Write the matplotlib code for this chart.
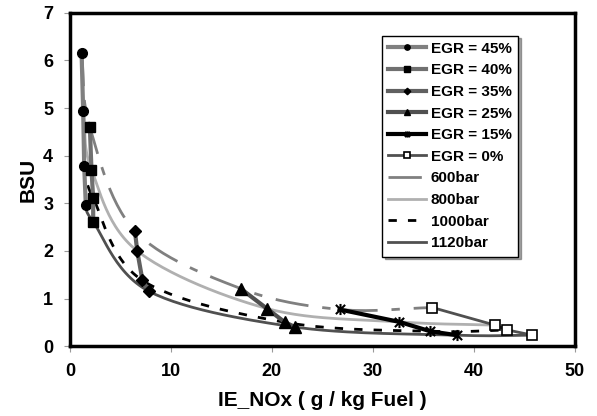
import numpy as np
import matplotlib
matplotlib.use("Agg")
import matplotlib.pyplot as plt
from matplotlib.path import Path

plt.rcParams['font.family'] = ['Liberation Sans', 'DejaVu Sans']

# EGR series (x = IE_NOx, y = BSU), points ordered 600, 800, 1000, 1120 bar
egr_labels = ['EGR = 45%', 'EGR = 40%', 'EGR = 35%', 'EGR = 25%', 'EGR = 15%', 'EGR = 0%']
egr45_x = [1.16, 1.32, 1.42, 1.58]
egr45_y = [6.16, 4.93, 3.78, 2.96]
egr40_x = [1.98, 2.14, 2.31, 2.31]
egr40_y = [4.60, 3.71, 3.11, 2.61]
egr35_x = [6.44, 6.67, 7.19, 7.85]
egr35_y = [2.42, 2.00, 1.38, 1.15]
egr25_x = [16.9, 19.5, 21.3, 22.3]
egr25_y = [1.21, 0.79, 0.50, 0.40]
egr15_x = [26.7, 32.6, 35.7, 38.3]
egr15_y = [0.77, 0.51, 0.31, 0.23]
egr0_x = [35.9, 42.1, 43.3, 45.8]
egr0_y = [0.81, 0.44, 0.34, 0.23]

# Injection-pressure curves
bar_labels = ['600bar', '800bar', '1000bar', '1120bar']
p600_x = [1.16, 1.98, 6.44, 16.9, 26.7, 35.9]
p600_y = [6.16, 4.60, 2.42, 1.21, 0.77, 0.81]
p800_x = [1.32, 2.14, 6.67, 19.5, 32.6, 42.1]
p800_y = [4.93, 3.71, 2.00, 0.79, 0.51, 0.44]
p1000_x = [1.42, 2.31, 7.19, 21.3, 35.7, 43.3]
p1000_y = [3.78, 3.11, 1.38, 0.50, 0.31, 0.34]
p1120_x = [1.58, 2.31, 7.85, 22.3, 38.3, 45.8]
p1120_y = [2.96, 2.61, 1.15, 0.40, 0.23, 0.23]

x_ticks = [0, 10, 20, 30, 40, 50]
y_ticks = [0, 1, 2, 3, 4, 5, 6, 7]


def smooth(xs, ys, n=30):
    # Excel-like smoothing (Catmull-Rom through the data points)
    p = np.column_stack([xs, ys]).astype(float)
    sc = np.array([1 / 50.0, 1 / 7.0 * 0.7])
    q = p * sc
    pts = [q[0] - (q[1] - q[0])] + list(q) + [q[-1] + (q[-1] - q[-2])]
    pts = np.array(pts)
    out = []
    for i in range(1, len(pts) - 2):
        p0, p1, p2, p3 = pts[i - 1], pts[i], pts[i + 1], pts[i + 2]
        t = np.linspace(0, 1, n)[:, None]
        seg = 0.5 * ((2 * p1) + (-p0 + p2) * t + (2 * p0 - 5 * p1 + 4 * p2 - p3) * t ** 2
                     + (-p0 + 3 * p1 - 3 * p2 + p3) * t ** 3)
        out.append(seg)
    out = np.vstack(out) / sc
    return out[:, 0], out[:, 1]


# Excel "star" marker: an X with a vertical bar
star = Path([(-1, -1), (1, 1), (-1, 1), (1, -1), (0, -1.2), (0, 1.2)],
            [Path.MOVETO, Path.LINETO, Path.MOVETO, Path.LINETO, Path.MOVETO, Path.LINETO])

fig = plt.figure(figsize=(5.97, 4.16), dpi=100)
ax = fig.add_axes([0.117, 0.168, 0.846, 0.801])

egr_data = [(egr45_x, egr45_y), (egr40_x, egr40_y), (egr35_x, egr35_y),
            (egr25_x, egr25_y), (egr15_x, egr15_y), (egr0_x, egr0_y)]
egr_styles = [
    dict(color='#808080', lw=3, marker='o', ms=7, mfc='black', mec='black'),
    dict(color='#707070', lw=3, marker='s', ms=7, mfc='black', mec='black'),
    dict(color='#606060', lw=3, marker='D', ms=6, mfc='black', mec='black'),
    dict(color='#505050', lw=3, marker='^', ms=8, mfc='black', mec='black'),
    dict(color='black', lw=3, marker=star, ms=8, mfc='none', mec='black', mew=1.5),
    dict(color='#505050', lw=2, marker='s', ms=7, mfc='white', mec='black', mew=1.2),
]

bar_data = [(p600_x, p600_y), (p800_x, p800_y), (p1000_x, p1000_y), (p1120_x, p1120_y)]
bar_styles = [
    dict(color='#808080', lw=2, dashes=(12, 5, 3, 5)),
    dict(color='#b0b0b0', lw=2),
    dict(color='black', lw=2, dashes=(3, 4)),
    dict(color='#505050', lw=2),
]

handles = []
for (xs, ys), st, lab in zip(egr_data, egr_styles, egr_labels):
    h, = ax.plot(xs, ys, label=lab, zorder=4, **st)
    handles.append(h)
for (xs, ys), st, lab in zip(bar_data, bar_styles, bar_labels):
    sx, sy = smooth(xs, ys)
    h, = ax.plot(sx, sy, label=lab, zorder=3, **st)
    handles.append(h)

ax.set_xlim(0, 50)
ax.set_ylim(0, 7)
ax.set_xticks(x_ticks)
ax.set_yticks(y_ticks)
ax.tick_params(direction='out', length=4, width=0.8, color='#999999',
               labelsize=13, pad=8)
for lbl in ax.get_xticklabels() + ax.get_yticklabels():
    lbl.set_fontweight('bold')
for s in ax.spines.values():
    s.set_linewidth(2.5)
    s.set_color('black')

ax.set_xlabel('IE_NOx ( g / kg Fuel )', fontsize=15, fontweight='bold', labelpad=8)
ax.set_ylabel('BSU', fontsize=15, fontweight='bold', labelpad=4)

leg = ax.legend(handles=handles, loc='upper left', bbox_to_anchor=(0.603, 0.955),
                frameon=True, fancybox=False, shadow=True, handlelength=2.5,
                handletextpad=0.3, labelspacing=0.5, borderpad=0.4,
                markerscale=0.55, prop=dict(weight='bold', size=11))
leg.get_frame().set_edgecolor('black')
leg.get_frame().set_linewidth(1.0)

fig.savefig('out.png', dpi=100)
